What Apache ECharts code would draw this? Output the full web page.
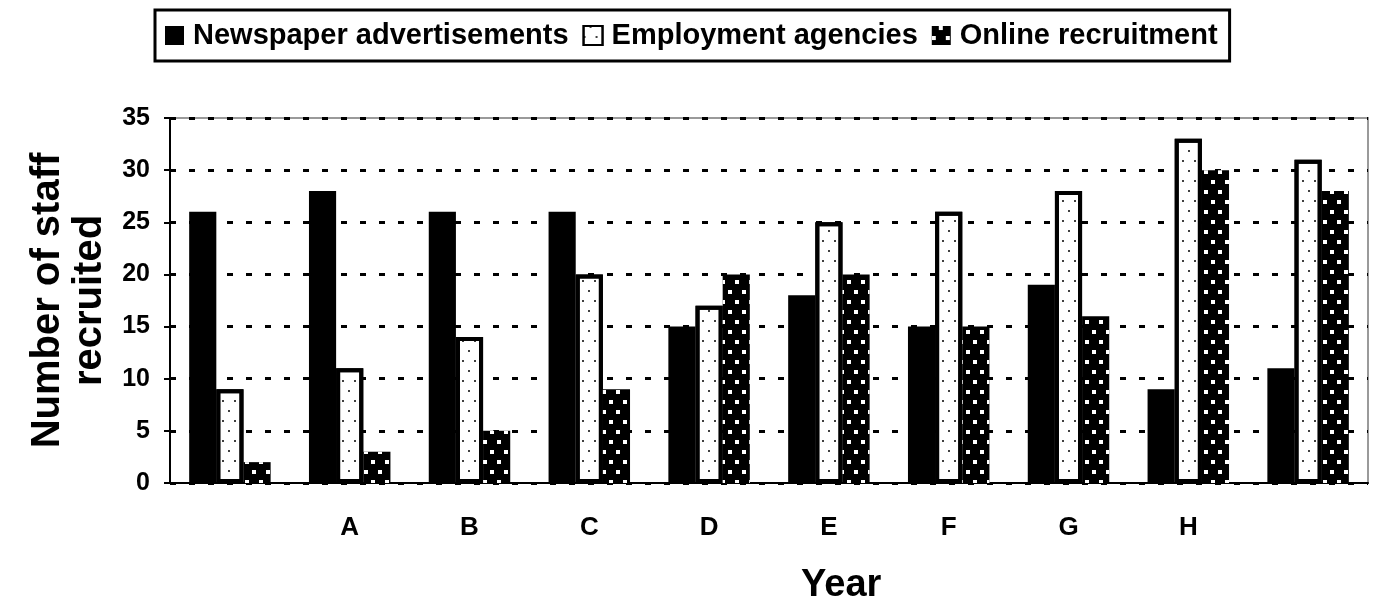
<!DOCTYPE html>
<html>
<head>
<meta charset="utf-8">
<style>
  html, body { margin: 0; padding: 0; background: #fff; }
  #chart { width: 1379px; height: 602px; }
</style>
<script src="https://cdn.jsdelivr.net/npm/echarts@6/dist/echarts.min.js"></script>
</head>
<body>
<div id="chart"></div>
<script>
// category labels (first and last group are unlabelled in the original)
var years = ['', 'A', 'B', 'C', 'D', 'E', 'F', 'G', 'H', ''];
var newspaper = [26, 28, 26, 26, 15, 18, 15, 19, 9, 11];
var agencies = [9, 11, 14, 20, 17, 25, 26, 28, 33, 31];
var online = [2, 3, 5, 9, 20, 20, 15, 16, 30, 28];
var seriesNames = ['Newspaper advertisements', 'Employment agencies', 'Online recruitment'];
var yTicks = [0, 5, 10, 15, 20, 25, 30, 35];

var chart = echarts.init(document.getElementById('chart'));

var font = 'Liberation Sans, Arial, sans-serif';

chart.setOption({
  animation: false,
  textStyle: { fontFamily: font, color: '#000' },
  title: {
    text: 'Year',
    left: 796,
    top: 562,
    textStyle: { fontSize: 38, fontWeight: 'bold', color: '#000', fontFamily: font }
  },
  legend: {
    left: 155,
    top: 10,
    padding: [11, 12, 11, 10],
    borderColor: '#000',
    borderWidth: 3,
    icon: 'rect',
    itemWidth: 19,
    itemHeight: 19,
    itemGap: 14,
    textStyle: { fontSize: 29, fontWeight: 'bold', color: '#000', fontFamily: font, padding: [0, 0, 0, 4] },
    data: seriesNames
  },
  grid: {
    left: 170,
    right: 11,
    top: 118,
    bottom: 119,
    outerBoundsMode: 'none',
    containLabel: false,
    show: true,
    borderColor: '#9a9a9a',
    borderWidth: 2
  },
  xAxis: {
    type: 'category',
    data: years,
    axisLine: { lineStyle: { color: '#000', width: 2 } },
    axisTick: { interval: 0, length: 8, lineStyle: { color: '#000', width: 2 } },
    axisLabel: { interval: 0, margin: 32, fontSize: 26, fontWeight: 'bold', color: '#000' }
  },
  yAxis: {
    type: 'value',
    min: yTicks[0],
    max: yTicks[yTicks.length - 1],
    interval: 5,
    name: 'Number of staff\nrecruited',
    nameLocation: 'middle',
    nameGap: 45,
    nameRotate: 90,
    nameTextStyle: { fontSize: 40, fontWeight: 'bold', color: '#000', lineHeight: 42 },
    axisLine: { show: true, lineStyle: { color: '#000', width: 2 } },
    axisTick: { show: true, length: 6, lineStyle: { color: '#000', width: 2 } },
    axisLabel: { margin: 20, fontSize: 25, fontWeight: 'bold', color: '#000' },
    splitLine: { lineStyle: { color: '#000', width: 3, type: [6, 13] } }
  },
  series: [
    {
      name: seriesNames[0],
      type: 'bar',
      data: newspaper,
      barGap: '0%',
      barCategoryGap: '32%',
      itemStyle: { color: '#000' }
    },
    {
      name: seriesNames[1],
      type: 'bar',
      data: agencies,
      itemStyle: {
        color: '#fff',
        borderColor: '#000',
        borderWidth: 4,
        decal: {
          symbol: 'circle',
          symbolSize: 1,
          color: '#000',
          dashArrayX: [[2, 10], [0, 6, 2, 4]],
          dashArrayY: [2, 8]
        }
      }
    },
    {
      name: seriesNames[2],
      type: 'bar',
      data: online,
      itemStyle: {
        color: '#000',
        decal: {
          symbol: 'rect',
          symbolSize: 1,
          color: '#fff',
          dashArrayX: [[4, 10], [0, 7, 4, 3]],
          dashArrayY: [4, 6]
        }
      }
    }
  ]
});
</script>
</body>
</html>
